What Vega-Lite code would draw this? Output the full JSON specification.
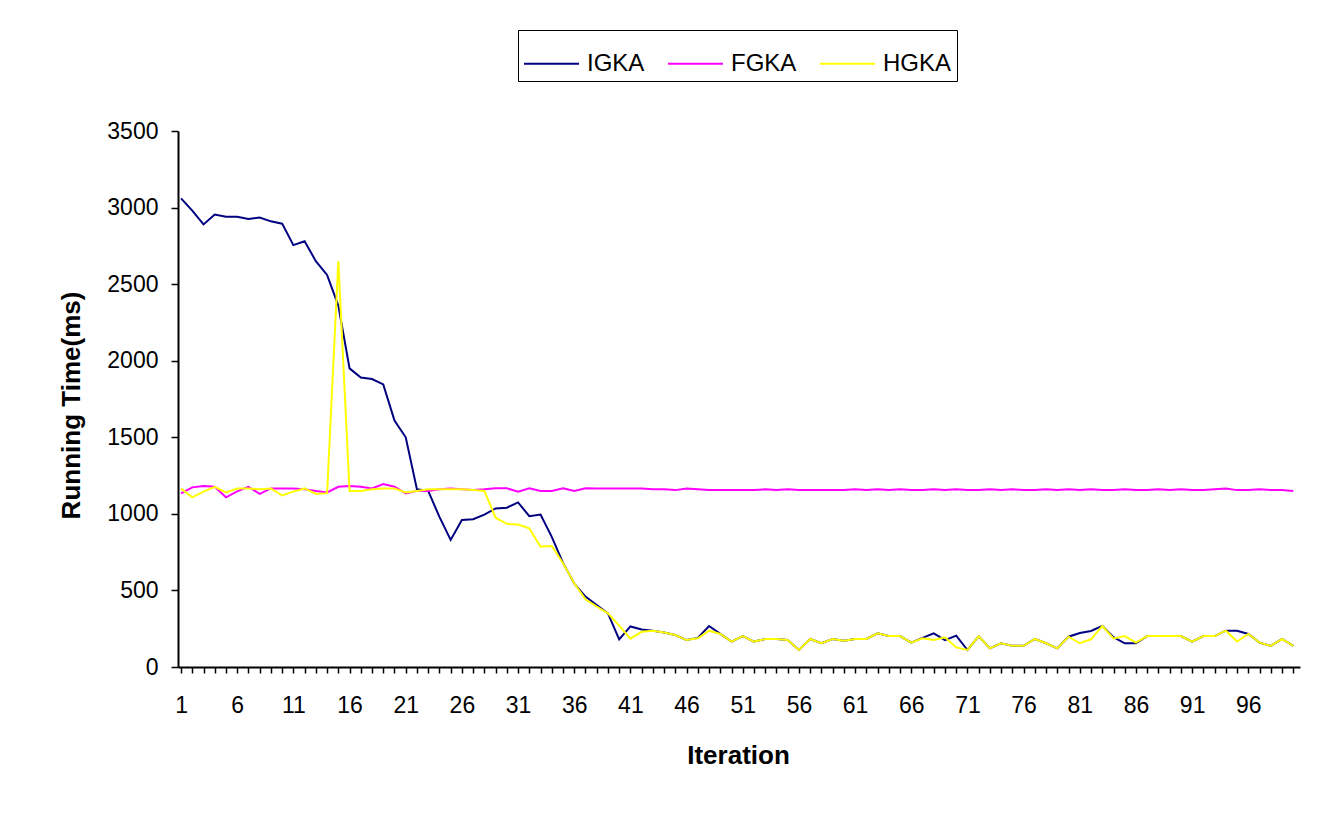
{
  "$schema": "https://vega.github.io/schema/vega-lite/v6.json",
  "width": 1122,
  "height": 536,
  "autosize": {"type": "none"},
  "padding": {"left": 178, "top": 131, "right": 25, "bottom": 147},
  "background": "white",
  "config": {"view": {"stroke": null}, "font": "Liberation Sans"},
  "data": {"values": [
    {"i":1,"s":"IGKA","v":3060},{"i":2,"s":"IGKA","v":2980},{"i":3,"s":"IGKA","v":2890},{"i":4,"s":"IGKA","v":2955},{"i":5,"s":"IGKA","v":2940},
    {"i":6,"s":"IGKA","v":2940},{"i":7,"s":"IGKA","v":2925},{"i":8,"s":"IGKA","v":2935},{"i":9,"s":"IGKA","v":2910},{"i":10,"s":"IGKA","v":2895},
    {"i":11,"s":"IGKA","v":2755},{"i":12,"s":"IGKA","v":2780},{"i":13,"s":"IGKA","v":2650},{"i":14,"s":"IGKA","v":2560},{"i":15,"s":"IGKA","v":2360},
    {"i":16,"s":"IGKA","v":1950},{"i":17,"s":"IGKA","v":1890},{"i":18,"s":"IGKA","v":1880},{"i":19,"s":"IGKA","v":1845},{"i":20,"s":"IGKA","v":1610},
    {"i":21,"s":"IGKA","v":1500},{"i":22,"s":"IGKA","v":1160},{"i":23,"s":"IGKA","v":1150},{"i":24,"s":"IGKA","v":980},{"i":25,"s":"IGKA","v":830},
    {"i":26,"s":"IGKA","v":960},{"i":27,"s":"IGKA","v":965},{"i":28,"s":"IGKA","v":995},{"i":29,"s":"IGKA","v":1035},{"i":30,"s":"IGKA","v":1040},
    {"i":31,"s":"IGKA","v":1075},{"i":32,"s":"IGKA","v":985},{"i":33,"s":"IGKA","v":995},{"i":34,"s":"IGKA","v":850},{"i":35,"s":"IGKA","v":680},
    {"i":36,"s":"IGKA","v":545},{"i":37,"s":"IGKA","v":460},{"i":38,"s":"IGKA","v":405},{"i":39,"s":"IGKA","v":350},{"i":40,"s":"IGKA","v":180},
    {"i":41,"s":"IGKA","v":265},{"i":42,"s":"IGKA","v":245},{"i":43,"s":"IGKA","v":237},{"i":44,"s":"IGKA","v":225},{"i":45,"s":"IGKA","v":209},
    {"i":46,"s":"IGKA","v":176},{"i":47,"s":"IGKA","v":190},{"i":48,"s":"IGKA","v":268},{"i":49,"s":"IGKA","v":216},{"i":50,"s":"IGKA","v":166},
    {"i":51,"s":"IGKA","v":202},{"i":52,"s":"IGKA","v":166},{"i":53,"s":"IGKA","v":183},{"i":54,"s":"IGKA","v":183},{"i":55,"s":"IGKA","v":176},
    {"i":56,"s":"IGKA","v":111},{"i":57,"s":"IGKA","v":183},{"i":58,"s":"IGKA","v":155},{"i":59,"s":"IGKA","v":183},{"i":60,"s":"IGKA","v":172},
    {"i":61,"s":"IGKA","v":183},{"i":62,"s":"IGKA","v":183},{"i":63,"s":"IGKA","v":220},{"i":64,"s":"IGKA","v":202},{"i":65,"s":"IGKA","v":202},
    {"i":66,"s":"IGKA","v":159},{"i":67,"s":"IGKA","v":190},{"i":68,"s":"IGKA","v":220},{"i":69,"s":"IGKA","v":175},{"i":70,"s":"IGKA","v":205},
    {"i":71,"s":"IGKA","v":111},{"i":72,"s":"IGKA","v":200},{"i":73,"s":"IGKA","v":122},{"i":74,"s":"IGKA","v":155},{"i":75,"s":"IGKA","v":138},
    {"i":76,"s":"IGKA","v":138},{"i":77,"s":"IGKA","v":183},{"i":78,"s":"IGKA","v":155},{"i":79,"s":"IGKA","v":122},{"i":80,"s":"IGKA","v":198},
    {"i":81,"s":"IGKA","v":222},{"i":82,"s":"IGKA","v":235},{"i":83,"s":"IGKA","v":268},{"i":84,"s":"IGKA","v":195},{"i":85,"s":"IGKA","v":155},
    {"i":86,"s":"IGKA","v":155},{"i":87,"s":"IGKA","v":202},{"i":88,"s":"IGKA","v":202},{"i":89,"s":"IGKA","v":202},{"i":90,"s":"IGKA","v":202},
    {"i":91,"s":"IGKA","v":166},{"i":92,"s":"IGKA","v":202},{"i":93,"s":"IGKA","v":202},{"i":94,"s":"IGKA","v":237},{"i":95,"s":"IGKA","v":237},
    {"i":96,"s":"IGKA","v":216},{"i":97,"s":"IGKA","v":159},{"i":98,"s":"IGKA","v":138},{"i":99,"s":"IGKA","v":183},{"i":100,"s":"IGKA","v":138},

    {"i":1,"s":"FGKA","v":1134},{"i":2,"s":"FGKA","v":1173},{"i":3,"s":"FGKA","v":1182},{"i":4,"s":"FGKA","v":1177},{"i":5,"s":"FGKA","v":1108},
    {"i":6,"s":"FGKA","v":1147},{"i":7,"s":"FGKA","v":1177},{"i":8,"s":"FGKA","v":1130},{"i":9,"s":"FGKA","v":1166},{"i":10,"s":"FGKA","v":1166},
    {"i":11,"s":"FGKA","v":1166},{"i":12,"s":"FGKA","v":1160},{"i":13,"s":"FGKA","v":1150},{"i":14,"s":"FGKA","v":1140},{"i":15,"s":"FGKA","v":1177},
    {"i":16,"s":"FGKA","v":1182},{"i":17,"s":"FGKA","v":1177},{"i":18,"s":"FGKA","v":1166},{"i":19,"s":"FGKA","v":1194},{"i":20,"s":"FGKA","v":1177},
    {"i":21,"s":"FGKA","v":1134},{"i":22,"s":"FGKA","v":1150},{"i":23,"s":"FGKA","v":1150},{"i":24,"s":"FGKA","v":1160},{"i":25,"s":"FGKA","v":1165},
    {"i":26,"s":"FGKA","v":1160},{"i":27,"s":"FGKA","v":1155},{"i":28,"s":"FGKA","v":1160},{"i":29,"s":"FGKA","v":1167},{"i":30,"s":"FGKA","v":1167},
    {"i":31,"s":"FGKA","v":1145},{"i":32,"s":"FGKA","v":1167},{"i":33,"s":"FGKA","v":1150},{"i":34,"s":"FGKA","v":1150},{"i":35,"s":"FGKA","v":1167},
    {"i":36,"s":"FGKA","v":1150},{"i":37,"s":"FGKA","v":1167},{"i":38,"s":"FGKA","v":1165},{"i":39,"s":"FGKA","v":1165},{"i":40,"s":"FGKA","v":1165},
    {"i":41,"s":"FGKA","v":1165},{"i":42,"s":"FGKA","v":1165},{"i":43,"s":"FGKA","v":1160},{"i":44,"s":"FGKA","v":1160},{"i":45,"s":"FGKA","v":1155},
    {"i":46,"s":"FGKA","v":1165},{"i":47,"s":"FGKA","v":1160},{"i":48,"s":"FGKA","v":1155},{"i":49,"s":"FGKA","v":1155},{"i":50,"s":"FGKA","v":1155},
    {"i":51,"s":"FGKA","v":1155},{"i":52,"s":"FGKA","v":1155},{"i":53,"s":"FGKA","v":1160},{"i":54,"s":"FGKA","v":1155},{"i":55,"s":"FGKA","v":1160},
    {"i":56,"s":"FGKA","v":1155},{"i":57,"s":"FGKA","v":1155},{"i":58,"s":"FGKA","v":1155},{"i":59,"s":"FGKA","v":1155},{"i":60,"s":"FGKA","v":1155},
    {"i":61,"s":"FGKA","v":1160},{"i":62,"s":"FGKA","v":1155},{"i":63,"s":"FGKA","v":1160},{"i":64,"s":"FGKA","v":1155},{"i":65,"s":"FGKA","v":1160},
    {"i":66,"s":"FGKA","v":1155},{"i":67,"s":"FGKA","v":1155},{"i":68,"s":"FGKA","v":1160},{"i":69,"s":"FGKA","v":1155},{"i":70,"s":"FGKA","v":1160},
    {"i":71,"s":"FGKA","v":1155},{"i":72,"s":"FGKA","v":1155},{"i":73,"s":"FGKA","v":1160},{"i":74,"s":"FGKA","v":1155},{"i":75,"s":"FGKA","v":1160},
    {"i":76,"s":"FGKA","v":1155},{"i":77,"s":"FGKA","v":1155},{"i":78,"s":"FGKA","v":1160},{"i":79,"s":"FGKA","v":1155},{"i":80,"s":"FGKA","v":1160},
    {"i":81,"s":"FGKA","v":1155},{"i":82,"s":"FGKA","v":1160},{"i":83,"s":"FGKA","v":1155},{"i":84,"s":"FGKA","v":1155},{"i":85,"s":"FGKA","v":1160},
    {"i":86,"s":"FGKA","v":1155},{"i":87,"s":"FGKA","v":1155},{"i":88,"s":"FGKA","v":1160},{"i":89,"s":"FGKA","v":1155},{"i":90,"s":"FGKA","v":1160},
    {"i":91,"s":"FGKA","v":1155},{"i":92,"s":"FGKA","v":1155},{"i":93,"s":"FGKA","v":1160},{"i":94,"s":"FGKA","v":1165},{"i":95,"s":"FGKA","v":1155},
    {"i":96,"s":"FGKA","v":1155},{"i":97,"s":"FGKA","v":1160},{"i":98,"s":"FGKA","v":1155},{"i":99,"s":"FGKA","v":1155},{"i":100,"s":"FGKA","v":1150},

    {"i":1,"s":"HGKA","v":1165},{"i":2,"s":"HGKA","v":1108},{"i":3,"s":"HGKA","v":1145},{"i":4,"s":"HGKA","v":1177},{"i":5,"s":"HGKA","v":1140},
    {"i":6,"s":"HGKA","v":1166},{"i":7,"s":"HGKA","v":1166},{"i":8,"s":"HGKA","v":1160},{"i":9,"s":"HGKA","v":1166},{"i":10,"s":"HGKA","v":1120},
    {"i":11,"s":"HGKA","v":1145},{"i":12,"s":"HGKA","v":1166},{"i":13,"s":"HGKA","v":1130},{"i":14,"s":"HGKA","v":1135},{"i":15,"s":"HGKA","v":2650},
    {"i":16,"s":"HGKA","v":1150},{"i":17,"s":"HGKA","v":1150},{"i":18,"s":"HGKA","v":1160},{"i":19,"s":"HGKA","v":1165},{"i":20,"s":"HGKA","v":1165},
    {"i":21,"s":"HGKA","v":1140},{"i":22,"s":"HGKA","v":1150},{"i":23,"s":"HGKA","v":1160},{"i":24,"s":"HGKA","v":1160},{"i":25,"s":"HGKA","v":1160},
    {"i":26,"s":"HGKA","v":1160},{"i":27,"s":"HGKA","v":1155},{"i":28,"s":"HGKA","v":1150},{"i":29,"s":"HGKA","v":975},{"i":30,"s":"HGKA","v":935},
    {"i":31,"s":"HGKA","v":930},{"i":32,"s":"HGKA","v":905},{"i":33,"s":"HGKA","v":785},{"i":34,"s":"HGKA","v":790},{"i":35,"s":"HGKA","v":677},
    {"i":36,"s":"HGKA","v":547},{"i":37,"s":"HGKA","v":442},{"i":38,"s":"HGKA","v":395},{"i":39,"s":"HGKA","v":350},{"i":40,"s":"HGKA","v":270},
    {"i":41,"s":"HGKA","v":185},{"i":42,"s":"HGKA","v":230},{"i":43,"s":"HGKA","v":237},{"i":44,"s":"HGKA","v":225},{"i":45,"s":"HGKA","v":209},
    {"i":46,"s":"HGKA","v":176},{"i":47,"s":"HGKA","v":187},{"i":48,"s":"HGKA","v":237},{"i":49,"s":"HGKA","v":216},{"i":50,"s":"HGKA","v":166},
    {"i":51,"s":"HGKA","v":202},{"i":52,"s":"HGKA","v":166},{"i":53,"s":"HGKA","v":183},{"i":54,"s":"HGKA","v":183},{"i":55,"s":"HGKA","v":176},
    {"i":56,"s":"HGKA","v":111},{"i":57,"s":"HGKA","v":183},{"i":58,"s":"HGKA","v":155},{"i":59,"s":"HGKA","v":183},{"i":60,"s":"HGKA","v":172},
    {"i":61,"s":"HGKA","v":183},{"i":62,"s":"HGKA","v":183},{"i":63,"s":"HGKA","v":220},{"i":64,"s":"HGKA","v":202},{"i":65,"s":"HGKA","v":202},
    {"i":66,"s":"HGKA","v":159},{"i":67,"s":"HGKA","v":187},{"i":68,"s":"HGKA","v":176},{"i":69,"s":"HGKA","v":194},{"i":70,"s":"HGKA","v":128},
    {"i":71,"s":"HGKA","v":111},{"i":72,"s":"HGKA","v":200},{"i":73,"s":"HGKA","v":122},{"i":74,"s":"HGKA","v":155},{"i":75,"s":"HGKA","v":138},
    {"i":76,"s":"HGKA","v":138},{"i":77,"s":"HGKA","v":183},{"i":78,"s":"HGKA","v":155},{"i":79,"s":"HGKA","v":122},{"i":80,"s":"HGKA","v":198},
    {"i":81,"s":"HGKA","v":155},{"i":82,"s":"HGKA","v":181},{"i":83,"s":"HGKA","v":268},{"i":84,"s":"HGKA","v":187},{"i":85,"s":"HGKA","v":202},
    {"i":86,"s":"HGKA","v":159},{"i":87,"s":"HGKA","v":202},{"i":88,"s":"HGKA","v":202},{"i":89,"s":"HGKA","v":202},{"i":90,"s":"HGKA","v":202},
    {"i":91,"s":"HGKA","v":166},{"i":92,"s":"HGKA","v":202},{"i":93,"s":"HGKA","v":202},{"i":94,"s":"HGKA","v":237},{"i":95,"s":"HGKA","v":166},
    {"i":96,"s":"HGKA","v":216},{"i":97,"s":"HGKA","v":159},{"i":98,"s":"HGKA","v":138},{"i":99,"s":"HGKA","v":183},{"i":100,"s":"HGKA","v":138}
  ]},
  "mark": {"type": "line", "strokeWidth": 2},
  "encoding": {
    "x": {
      "field": "i", "type": "quantitative",
      "scale": {"domain": [0.73, 100.6], "nice": false, "zero": false},
      "axis": {
        "title": "Iteration",
        "values": [1,2,3,4,5,6,7,8,9,10,11,12,13,14,15,16,17,18,19,20,21,22,23,24,25,26,27,28,29,30,31,32,33,34,35,36,37,38,39,40,41,42,43,44,45,46,47,48,49,50,51,52,53,54,55,56,57,58,59,60,61,62,63,64,65,66,67,68,69,70,71,72,73,74,75,76,77,78,79,80,81,82,83,84,85,86,87,88,89,90,91,92,93,94,95,96,97,98,99,100],
        "format": "d",
        "labelExpr": "(datum.value - 1) % 5 == 0 ? datum.label : ''",
        "labelOverlap": false, "labelFlush": false, "grid": false,
        "tickSize": 6, "tickWidth": 1.5, "tickColor": "black",
        "domainColor": "black", "domainWidth": 2,
        "labelFont": "Liberation Sans", "labelFontSize": 23, "labelColor": "black", "labelPadding": 21,
        "titleFont": "Liberation Sans", "titleFontSize": 26, "titleFontWeight": "bold", "titleColor": "black",
        "titleX": 560, "titleY": 96, "titleBaseline": "alphabetic", "titleAlign": "center"
      }
    },
    "y": {
      "field": "v", "type": "quantitative",
      "scale": {"domain": [0, 3500], "nice": false},
      "axis": {
        "title": "Running Time(ms)",
        "values": [0, 500, 1000, 1500, 2000, 2500, 3000, 3500],
        "format": "d",
        "grid": false,
        "tickSize": 7, "tickWidth": 1.5, "tickColor": "black",
        "domainColor": "black", "domainWidth": 2,
        "labelFont": "Liberation Sans", "labelFontSize": 23, "labelColor": "black", "labelPadding": 13,
        "titleFont": "Liberation Sans", "titleFontSize": 26, "titleFontWeight": "bold", "titleColor": "black",
        "titleX": -94, "titleY": 274, "titleAngle": -90, "titleBaseline": "bottom", "titleAlign": "center"
      }
    },
    "color": {
      "field": "s", "type": "nominal",
      "scale": {"domain": ["IGKA", "FGKA", "HGKA"], "range": ["#000080", "#FF00FF", "#FFFF00"]},
      "legend": {
        "title": null, "orient": "none", "legendX": 340, "legendY": -101, "direction": "horizontal",
        "symbolType": "stroke", "symbolSize": 3025, "symbolStrokeWidth": 2,
        "labelFont": "Liberation Sans", "labelFontSize": 24, "labelColor": "black", "labelOffset": 7,
        "columnPadding": 19, "padding": 5, "strokeColor": "black", "labelLimit": 300
      }
    }
  }
}
